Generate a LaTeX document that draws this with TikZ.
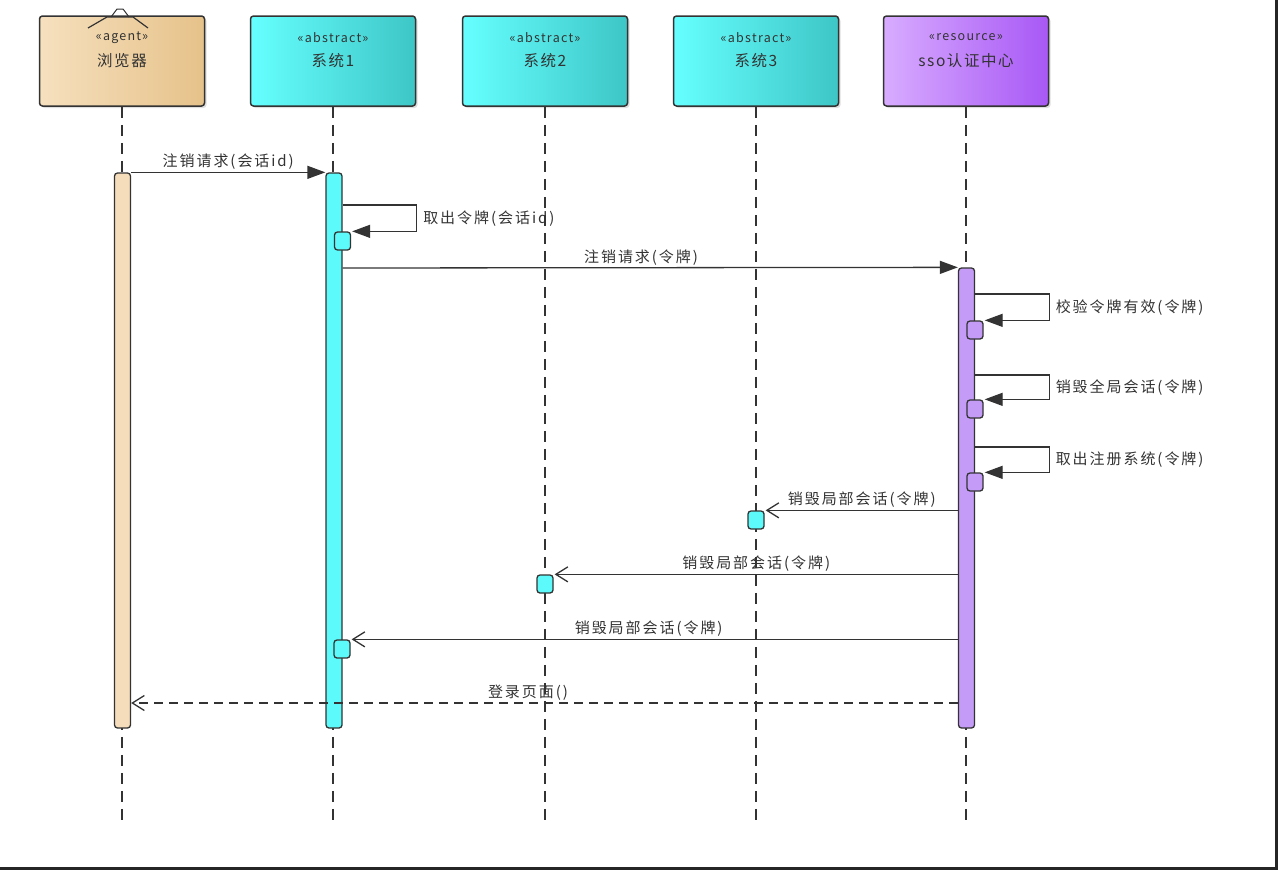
\documentclass[tikz,border=0pt]{standalone}
\usepackage{fontspec}
\setmainfont{Noto Sans CJK SC}
\newfontfamily\wideface[LetterSpace=10]{Noto Sans CJK SC}
\newfontfamily\msgface[LetterSpace=13]{Noto Sans CJK SC}
\usetikzlibrary{arrows.meta,shadows,positioning}

\definecolor{inkgray}{HTML}{333333}
\definecolor{tanL}{HTML}{F6E0BE}
\definecolor{tanR}{HTML}{E6C28A}
\definecolor{cyanL}{HTML}{66FFFF}
\definecolor{cyanR}{HTML}{3EC6C6}
\definecolor{purpL}{HTML}{D8ACFF}
\definecolor{purpR}{HTML}{A858F5}
\definecolor{tanbar}{HTML}{F5DDBB}
\definecolor{cyanbar}{HTML}{5CFAFA}
\definecolor{purpbar}{HTML}{C49CF7}

\begin{document}
\begin{tikzpicture}[x=1pt,y=-1pt]

    \tikzset{
      head/.style={
        draw=inkgray,
        line width=1.5pt,
        rounded corners=3pt,
        minimum width=165pt,
        minimum height=90pt,
        drop shadow={shadow xshift=2pt,shadow yshift=-2pt,opacity=0.25},
      },
      stereo/.style={text=inkgray,font=\wideface\fontsize{12.5}{14}\selectfont,inner sep=0pt},
      headname/.style={text=inkgray,font=\wideface\fontsize{15.5}{18}\selectfont,inner sep=0pt},
      lifeline/.style={draw=inkgray,line width=1.2pt,dash pattern=on 11pt off 7pt},
      actbar/.style={
        draw=inkgray,
        line width=1.3pt,
        rounded corners=3pt,
        minimum width=16pt,
        inner sep=0pt,
      },
      actbox/.style={actbar,minimum width=16pt,minimum height=18pt},
      call/.style={draw=inkgray,line width=1.3pt,-{Triangle[length=18pt,width=13pt]}},
      reply/.style={draw=inkgray,line width=1.3pt,-{Straight Barb[length=12pt,width=15pt]}},
      msg/.style={text=inkgray,font=\msgface\fontsize{15}{17}\selectfont,inner sep=2pt},
    }
    \useasboundingbox (0,0) rectangle (1280,870);

	\node[head,left color=tanL,right color=tanR] (browser) at (122,61) {};
	\node[head,left color=cyanL,right color=cyanR] (sys1) at (333,61) {};
	\node[head,left color=cyanL,right color=cyanR] (sys2) at (545,61) {};
	\node[head,left color=cyanL,right color=cyanR] (sys3) at (756,61) {};
	\node[head,left color=purpL,right color=purpR] (sso) at (966,61) {};

	\node[stereo] at ([yshift=-22pt]browser.north) {«agent»};
	\node[stereo] at ([yshift=-22pt]sys1.north) {«abstract»};
	\node[stereo] at ([yshift=-22pt]sys2.north) {«abstract»};
	\node[stereo] at ([yshift=-22pt]sys3.north) {«abstract»};
	\node[stereo] at ([yshift=-22pt]sso.north) {«resource»};

	\node[headname] at (browser) {浏览器};
	\node[headname] at (sys1) {系统1};
	\node[headname] at (sys2) {系统2};
	\node[headname] at (sys3) {系统3};
	\node[headname] at (sso) {sso认证中心};

	\draw[inkgray,line width=1.2pt] (88,28) -- (107,17) -- (133,17) -- (148,28);
	\draw[inkgray,line width=1pt] (111,17) -- (117,9) -- (123,9) -- (129,17);

	\coordinate (browserend) at (122,825);
	\coordinate (sys1end) at (333,825);
	\coordinate (sys2end) at (545,825);
	\coordinate (sys3end) at (756,825);
	\coordinate (ssoend) at (966,825);
	\draw[lifeline] (browser.south) -- (browserend);
	\draw[lifeline] (sys1.south) -- (sys1end);
	\draw[lifeline] (sys2.south) -- (sys2end);
	\draw[lifeline] (sys3.south) -- (sys3end);
	\draw[lifeline] (sso.south) -- (ssoend);

	\node[actbar,fill=tanbar,minimum height=555pt] (browserbar) at (122.5,450.5) {};
	\node[actbar,fill=cyanbar,minimum height=555pt] (sys1bar) at (334,450.5) {};
	\node[actbar,fill=purpbar,minimum height=460pt] (ssobar) at (966.5,498) {};

	\node[actbox,fill=cyanbar] (sys1a) at (342.5,241) {};
	\node[actbox,fill=purpbar] (ssoa) at (975,330) {};
	\node[actbox,fill=purpbar] (ssob) at (975,409) {};
	\node[actbox,fill=purpbar] (ssoc) at (975,482) {};
	\node[actbox,fill=cyanbar] (sys3a) at (756,520) {};
	\node[actbox,fill=cyanbar] (sys2a) at (545,584) {};
	\node[actbox,fill=cyanbar] (sys1b) at (342,649) {};

	\draw[call] (browserbar.north east) -- (sys1bar.north west) node[msg,midway,above] {注销请求(会话id)};
	\draw[call] (sys1bar.east |- 0,205) -- ++(74,0) |- node[msg,pos=0.25,right=4pt] {取出令牌(会话id)} ([xshift=1pt]sys1a.north east);
	\draw[call] (sys1bar.east |- 0,268) -- (ssobar.north west) node[msg,pos=0.485,above] {注销请求(令牌)};

	\draw[call] (ssobar.east |- 0,294) -- ++(74,0) |- node[msg,pos=0.25,right=4pt] {校验令牌有效(令牌)} ([xshift=1pt]ssoa.north east);
	\draw[call] (ssobar.east |- 0,375) -- ++(74,0) |- node[msg,pos=0.25,right=4pt] {销毁全局会话(令牌)} ([xshift=1pt]ssob.north east);
	\draw[call] (ssobar.east |- 0,447) -- ++(74,0) |- node[msg,pos=0.25,right=4pt] {取出注册系统(令牌)} ([xshift=1pt]ssoc.north east);

	\draw[reply] (ssobar.west |- sys3a.north) -- ([xshift=1pt]sys3a.north east) node[msg,midway,above] {销毁局部会话(令牌)};
	\draw[reply] (ssobar.west |- sys2a.north) -- ([xshift=1pt]sys2a.north east) node[msg,midway,above] {销毁局部会话(令牌)};
	\draw[reply] (ssobar.west |- sys1b.north) -- ([xshift=1pt]sys1b.north east) node[msg,pos=0.51,above] {销毁局部会话(令牌)};
	\draw[reply,dash pattern=on 9pt off 6pt] (ssobar.west |- 0,703) -- (browserbar.east |- 0,703) node[msg,pos=0.52,above] {登录页面()};

	\draw[black!85,line width=3pt] (0,868) -- (1276,868) -- (1276,0);

\end{tikzpicture}
\end{document}
